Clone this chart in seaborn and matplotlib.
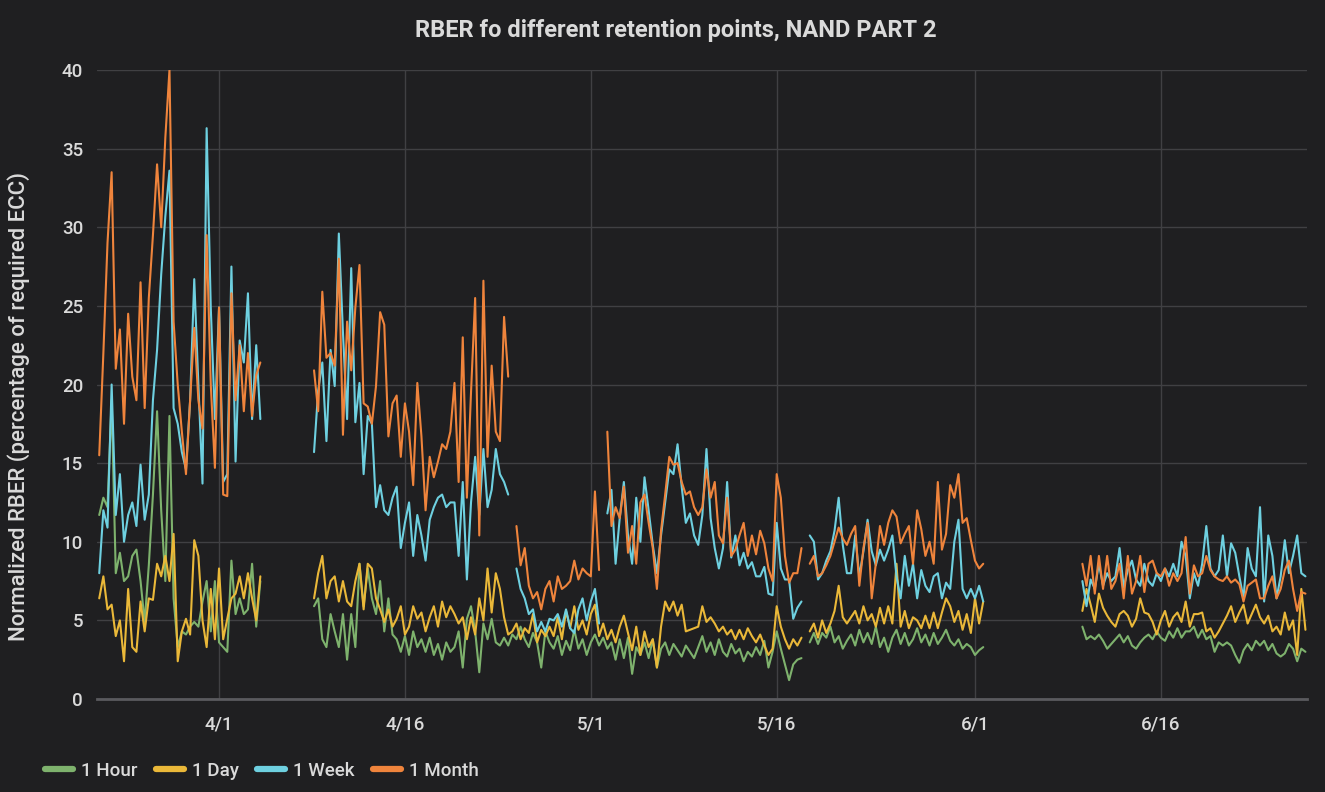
import numpy as np
import pandas as pd
import matplotlib
matplotlib.use("Agg")
import matplotlib.pyplot as plt
from matplotlib.lines import Line2D
import seaborn as sns

nan = np.nan

# Readings are taken every 8 hours; the log has three stretches of data.
seg_starts = ["2018-03-22 08:00", "2018-04-08 16:00", "2018-06-09 16:00"]
step = "8h"

series_names = ["1 Hour", "1 Day", "1 Week", "1 Month"]
series_colors = ["#7EB26D", "#EAB839", "#6ED0E0", "#EF843C"]

# ---- 1 Hour retention ----
hour_a = [11.7, 12.8, 12.2, 19.0, 8.0, 9.3, 7.5, 7.8, 9.1, 9.5, 7.5, 4.9, 8.5, 13.0,
          18.3, 12.0, 7.5, 18.0, 6.4, 3.3, 4.3, 4.1, 4.6, 4.9, 4.6, 6.2, 7.5, 4.3, 7.5,
          3.6, 3.3, 3.0, 8.8, 5.4, 6.4, 5.4, 5.7, 8.6, 4.6, 7.5]
hour_b = [5.9, 6.4, 3.8, 3.3, 5.4, 4.3, 3.3, 5.4, 2.5, 5.4, 3.3, 8.6, 5.9, 8.3, 6.4, 5.4,
          7.5, 4.3, 6.4, 4.1, 3.8,
          3.0, 4.0, 2.8, 4.3, 3.3, 3.8, 3.0, 3.9, 2.8, 3.5, 2.5, 3.6, 3.0, 3.3, 4.3, 2.0,
          5.1, 5.9, 4.3, 1.7, 4.8, 3.8, 5.1, 3.6, 3.4, 3.9, 3.4, 4.1, 3.8, 4.6, 3.8, 3.3,
          4.2, 3.6, 2.0, 4.3, 3.6,
          3.2, 4.0, 2.8, 3.7, 3.1, 4.4, 3.2, 3.8, 2.8, 3.6, 4.1, 3.4, 3.9, 3.2, 3.6, 2.5,
          3.8, 2.6, 3.9, 1.6, 3.3, 2.8, 3.6, 2.6, 3.8, 2.0, 3.2, 3.6, 2.8, 3.5, 3.1, 2.7,
          3.4, 3.0, 2.6, 3.3,
          4.0, 3.0, 3.6, 2.8, 3.8, 3.0, 2.7, 3.5, 2.9, 3.2, 2.4, 3.0, 2.7, 3.3, 2.8, 3.7,
          2.0, 3.0, 4.3, 3.2, 2.2, 1.2, 2.2, 2.5, 2.6,
          nan,
          3.6, 4.2, 3.5, 4.2, 3.9, 4.6, 3.6, 4.0, 3.2, 3.7,
          4.1, 3.4, 4.4, 3.6, 4.2, 3.5, 4.6, 3.3, 3.9, 3.0, 3.9, 4.4, 3.5, 4.2, 3.4, 3.8,
          4.5, 3.6, 4.1, 3.4, 4.2, 3.5, 3.9, 4.4, 3.7, 3.4, 3.8, 3.2, 3.5, 3.3, 2.8, 3.1, 3.3]
hour_c = [4.6, 3.8, 4.0, 3.8, 4.1, 3.7, 3.2, 3.5, 3.8, 4.1, 3.6, 4.0, 3.4, 3.2, 3.6, 3.9,
          4.1, 3.8, 4.3, 3.9, 3.7, 4.3, 3.9, 4.5, 3.9, 4.3, 4.3, 4.6, 3.9, 4.4, 3.8, 4.0,
          3.0, 3.6, 3.4, 3.6, 3.4, 2.8, 2.3, 3.1, 3.5, 3.1, 3.7, 3.4, 3.7, 3.1, 3.5, 2.9,
          2.7, 2.9, 3.5, 3.2, 2.4, 3.2, 3.0]

# ---- 1 Day retention ----
day_a = [6.4, 7.8, 5.7, 6.0, 4.0, 5.0, 2.4, 7.0, 3.3, 3.0, 6.2, 4.3, 6.4, 6.3, 8.6,
         7.8, 9.1, 7.5, 10.5, 2.4, 4.3, 5.1, 4.1, 10.1, 9.1, 5.0, 3.3, 7.0, 3.8, 8.3,
         3.8, 5.1, 6.4, 6.7, 7.8, 6.4, 8.0, 6.4, 5.0, 7.8]
day_b = [6.4, 8.0, 9.1, 6.4, 7.5, 7.8, 6.2, 7.5, 6.2, 5.9, 7.5, 8.6, 5.7, 8.6, 8.3, 6.4,
         5.7, 4.9, 5.7, 4.6, 5.1,
         5.9, 4.1, 4.6, 5.9, 5.1, 5.5, 4.3, 5.2, 5.9, 4.6, 6.2, 5.2, 5.9, 5.4, 4.8, 5.2,
         3.8, 5.2, 4.1, 6.4, 5.0, 8.3, 5.5, 8.0, 7.0, 5.2, 4.1, 4.3, 4.8, 3.8, 4.5, 4.2,
         5.4, 3.6, 4.4, 4.0, 4.6,
         4.0, 5.2, 3.8, 5.6, 4.5, 5.9, 4.4, 5.0, 4.1, 5.4, 6.0, 4.0, 4.8, 3.8, 4.4, 3.6,
         4.6, 5.3, 4.2, 3.1, 4.6, 2.8, 4.3, 3.3, 3.8, 2.0, 4.6, 6.2, 5.6, 6.2, 5.3, 6.0,
         4.3, 4.4, 4.5, 4.6,
         5.9, 4.9, 5.2, 4.8, 4.3, 4.6, 4.1, 4.4, 3.8, 4.4, 3.8, 4.5, 4.0, 3.6, 4.1, 3.4,
         2.8, 3.2, 5.9, 4.6, 3.8, 3.2, 3.8, 3.4, 3.9,
         nan,
         4.3, 4.8, 3.9, 5.0, 4.2, 4.8, 5.6, 7.2, 5.2, 4.8,
         5.2, 5.6, 4.8, 5.9, 5.0, 5.4, 4.6, 5.8, 4.8, 5.9, 4.8, 8.6, 4.6, 5.6, 4.5, 5.2,
         5.0, 4.5, 5.3, 4.5, 5.5, 4.5, 5.5, 6.4, 5.9, 4.9, 5.6, 4.4, 5.4, 4.2, 6.4, 4.8, 6.2]
day_c = [5.6, 7.0, 6.0, 4.9, 6.7, 5.8, 5.3, 4.9, 4.6, 5.4, 5.6, 5.3, 4.6, 5.1, 6.4, 5.5,
         5.4, 4.9, 4.1, 5.0, 5.6, 4.6, 5.2, 5.5, 4.9, 6.2, 4.6, 5.4, 5.4, 5.5, 4.3, 4.5,
         3.9, 4.3, 4.8, 5.3, 5.9, 4.9, 5.5, 6.0, 4.8, 5.4, 6.0, 5.2, 4.8, 5.3, 4.3, 4.6,
         4.1, 5.5, 4.4, 5.0, 2.8, 7.0, 4.4]

# ---- 1 Week retention ----
week_a = [8.0, 12.0, 10.9, 20.0, 11.7, 14.3, 10.0, 11.7, 12.5, 11.0, 14.9, 11.4, 13.0,
          19.0, 22.2, 27.0, 30.7, 33.6, 18.5, 17.5, 15.7, 14.6, 19.0, 26.7, 20.0, 13.7,
          36.3, 24.9, 17.8, 24.9, 13.8, 14.3, 27.5, 15.1, 22.8, 21.4, 25.8, 17.8, 22.5, 17.8]
week_b = [15.7, 19.6, 21.4, 16.4, 22.2, 19.9, 29.6, 23.3, 17.8, 27.4, 17.6, 20.1, 14.3,
          18.0, 17.5, 12.2, 13.6, 12.0, 11.7, 12.8, 13.5,
          9.6, 11.2, 12.5, 9.1, 11.7, 10.4, 8.8, 11.4, 12.2, 12.8, 13.0, 12.2, 12.5, 12.5,
          9.1, 13.8, 7.6, 12.5, 15.4, 11.7, 15.9, 12.2, 13.3, 15.9, 14.3, 13.8, 13.0,
          nan,
          8.3, 7.0, 6.4, 5.4, 5.7, 4.3, 4.9, 4.3, 5.1,
          5.0, 5.4, 4.6, 5.7, 4.5, 4.2, 5.7, 6.4, 5.0, 6.2, 7.0, 4.8,
          nan,
          11.8, 13.3, 8.6, 11.5, 13.8, 10.4, 8.6, 12.8, 10.0, 14.1, 12.0, 9.8, 8.0, 10.4,
          12.5, 14.6, 14.3, 16.2, 13.5, 11.2, 11.8, 10.4, 9.8,
          11.7, 15.9, 11.5, 9.6, 8.3, 9.6, 13.8, 9.0, 10.4, 8.5, 9.3, 8.3, 8.7, 7.8, 7.8,
          8.4, 6.7, 6.6, 11.2, 8.3, 7.6, 7.6, 5.1, 5.8, 6.2,
          nan,
          10.4, 10.0, 7.6, 8.0, 8.8, 9.4, 10.7, 12.8, 9.8, 8.0,
          8.0, 10.4, 7.8, 9.4, 11.4, 9.4, 8.5, 9.5, 8.8, 9.5, 10.4, 7.8, 6.4, 9.1, 7.2,
          8.6, 6.4, 8.2, 7.2, 6.8, 7.8, 8.0, 6.4, 7.4, 7.0, 10.0, 11.4, 7.0, 6.4, 7.0,
          6.4, 7.2, 6.2]
week_c = [7.5, 5.9, 7.6, 7.0, 8.6, 7.2, 8.0, 7.5, 7.8, 9.6, 7.1, 8.2, 8.8, 7.6, 7.2, 8.6,
          7.5, 7.2, 8.0, 7.5, 8.3, 7.8, 8.6, 7.8, 10.0, 9.1, 6.4, 8.0, 7.2, 8.6, 11.0, 8.3,
          7.8, 8.2, 10.4, 7.8, 9.9, 9.3, 7.8, 6.4, 9.6, 8.3, 7.8, 12.2, 6.2, 10.4, 9.1,
          6.4, 7.8, 10.1, 8.0, 9.1, 10.4, 8.0, 7.8]

# ---- 1 Month retention ----
month_a = [15.5, 22.0, 29.0, 33.5, 21.0, 23.5, 17.5, 24.5, 20.5, 19.0, 26.5, 18.5, 25.5,
           29.5, 34.0, 30.0, 35.7, 40.0, 24.0, 20.0, 17.0, 14.3, 19.0, 23.6, 19.0, 17.2,
           29.5, 20.0, 14.7, 24.9, 13.0, 12.9, 25.8, 19.0, 22.5, 18.3, 22.0, 18.0, 20.6, 21.4]
month_b = [20.9, 18.3, 25.9, 21.7, 22.0, 21.2, 28.0, 16.8, 24.0, 20.9, 24.9, 27.6, 18.8,
           18.6, 17.5, 19.9, 24.6, 23.8, 16.7, 18.8, 19.3,
           15.4, 18.8, 17.0, 13.6, 20.1, 16.7, 12.0, 15.4, 14.1, 15.1, 16.2, 15.9, 17.0,
           20.1, 13.8, 23.0, 12.8, 19.5, 25.5, 10.4, 26.6, 15.4, 21.2, 17.0, 16.4, 24.3, 20.5,
           nan,
           11.0, 8.5, 9.6, 7.2, 6.4, 6.8, 5.7, 7.0, 7.5,
           6.2, 7.8, 7.0, 7.2, 7.5, 8.8, 7.6, 8.3, 8.0, 7.8, 13.2, 8.2,
           nan,
           17.0, 11.0, 12.2, 11.5, 13.5, 9.3, 11.0, 8.6, 12.5, 13.0, 11.2, 9.6, 7.0, 10.7,
           13.0, 15.4, 14.9, 15.0, 13.8, 13.0, 13.2, 12.2, 11.7,
           12.2, 14.6, 12.8, 13.8, 10.4, 9.9, 12.8, 9.1, 9.5, 10.4, 11.2, 9.1, 10.4, 9.2,
           10.7, 9.9, 8.3, 7.5, 14.3, 12.8, 9.1, 7.4, 8.0, 8.0, 9.6,
           nan,
           8.6, 9.1, 7.8, 8.0, 8.5, 9.1, 10.0, 10.9, 10.2, 9.8,
           10.5, 11.0, 7.2, 9.6, 11.2, 6.4, 8.6, 11.0, 9.8, 11.2, 12.0, 11.6, 9.9, 10.5,
           11.0, 8.6, 12.0, 10.8, 9.1, 10.0, 8.6, 13.8, 9.5, 10.5, 13.6, 12.8, 14.3, 11.2,
           11.5, 10.1, 8.8, 8.3, 8.6]
month_c = [8.6, 7.2, 9.1, 6.7, 9.1, 7.0, 9.1, 7.0, 7.5, 8.6, 6.4, 9.1, 6.7, 7.5, 9.1, 6.8,
           8.6, 8.8, 8.0, 7.8, 8.3, 7.2, 8.0, 7.5, 8.0, 10.3, 6.7, 8.5, 7.8, 8.0, 9.1, 8.2,
           7.8, 7.6, 7.5, 7.8, 7.4, 7.6, 7.3, 6.2, 7.2, 7.4, 7.6, 6.4, 6.4, 7.2, 7.8, 6.4,
           7.0, 8.2, 8.8, 7.0, 5.6, 6.8, 6.7]

tick_dates = ["2018-04-01", "2018-04-16", "2018-05-01", "2018-05-16", "2018-06-01", "2018-06-16"]
tick_labels = ["4/1", "4/16", "5/1", "5/16", "6/1", "6/16"]
y_ticks = [0, 5, 10, 15, 20, 25, 30, 35, 40]

series_parts = {
    "1 Hour": [hour_a, hour_b, hour_c],
    "1 Day": [day_a, day_b, day_c],
    "1 Week": [week_a, week_b, week_c],
    "1 Month": [month_a, month_b, month_c],
}

# Long-form table; every unbroken run of readings gets its own id so that
# missing readings leave a gap in the line instead of being bridged.
frames = []
for name, parts in series_parts.items():
    for start, vals in zip(seg_starts, parts):
        v = np.asarray(vals, dtype=float)
        t = pd.date_range(start, periods=len(v), freq=step)
        run = np.cumsum(np.isnan(v))
        frames.append(pd.DataFrame({
            "time": t,
            "value": v,
            "series": name,
            "run": [f"{start}#{r}" for r in run],
        }).dropna())
data = pd.concat(frames, ignore_index=True)

BG = "#1f1f21"
GRID = "#404043"
TEXT = "#dadada"

sns.set_theme(style="dark")
plt.rcParams["font.family"] = ["Roboto", "DejaVu Sans"]

fig = plt.figure(figsize=(13.25, 7.92), dpi=100, facecolor=BG)
ax = fig.add_axes([97 / 1325, 93 / 792, 1210 / 1325, 629 / 792])
ax.set_facecolor(BG)

sns.lineplot(
    data=data, x="time", y="value", hue="series", units="run",
    estimator=None, hue_order=series_names, palette=series_colors,
    linewidth=1.5, legend=False, sort=True, ax=ax,
)

ax.set_xlim(pd.Timestamp("2018-03-22 03:40"), pd.Timestamp("2018-06-27 19:00"))
ax.set_ylim(0, 40)
ax.set_yticks(y_ticks)
ax.set_yticklabels([str(v) for v in y_ticks], fontweight="medium")
ax.set_xticks([pd.Timestamp(d) for d in tick_dates])
ax.set_xticklabels(tick_labels, fontweight="medium")

ax.grid(True, axis="both", color=GRID, linewidth=1.0)
ax.set_axisbelow(True)
for side in ["left", "right", "top"]:
    ax.spines[side].set_visible(False)
ax.spines["bottom"].set_visible(True)
ax.spines["bottom"].set_color("#5a5a5e")
ax.spines["bottom"].set_linewidth(2.0)

ax.tick_params(axis="both", length=0, colors=TEXT, labelsize=13.5)
ax.tick_params(axis="y", pad=10)
ax.tick_params(axis="x", pad=12)

ax.set_xlabel("")
ax.set_ylabel("Normalized RBER (percentage of required ECC)", color=TEXT,
              fontsize=16, fontweight="medium")
ax.yaxis.set_label_coords(-67 / 1210, 0.465)

fig.text(676 / 1325, 1 - 30 / 792, "RBER fo different retention points, NAND PART 2",
         ha="center", va="center", color=TEXT, fontsize=17, fontweight="bold")

handles = [Line2D([0], [0], color=c, lw=4.5, solid_capstyle="round") for c in series_colors]
fig.legend(handles, series_names, loc="center left",
           bbox_to_anchor=(45 / 1325, 1 - 771 / 792), ncol=4, frameon=False,
           handlelength=1.5, handletextpad=0.4, columnspacing=1.0,
           prop={"size": 13.5, "weight": "medium"}, labelcolor=TEXT,
           borderpad=0, borderaxespad=0)

fig.savefig("out.png", dpi=100, facecolor=BG)
